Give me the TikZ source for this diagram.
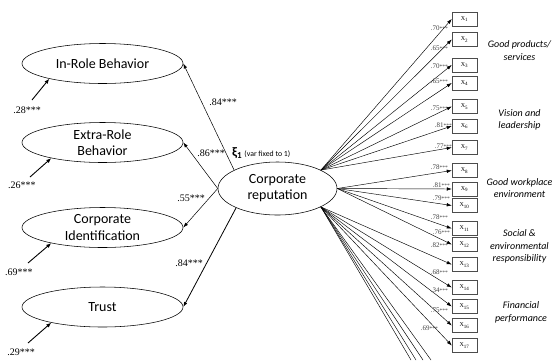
\documentclass[tikz,border=0pt]{standalone}
\usepackage{fontspec}
\setmainfont{Carlito}
\newfontfamily\numfont{Liberation Serif}
\usetikzlibrary{shapes.geometric,arrows.meta}

% small loading label: coefficient followed by tiny significance stars
\newcommand\lodtxt[1]{#1{\fontsize{5.5}{5.5}\selectfont ***}}

\begin{document}
\begin{tikzpicture}[x=1pt,y=-1pt,
  latent/.style={ellipse,draw,line width=0.55pt,minimum width=161pt,minimum height=40pt,
    inner sep=0pt,align=center,font=\fontsize{14}{16.5}\selectfont},
  indic/.style={rectangle,draw=black!70,line width=0.5pt,minimum width=25pt,minimum height=14pt,
    inner sep=0pt,font=\numfont\fontsize{6}{6}\selectfont},
  struct/.style={-{Latex[length=5pt,width=3.5pt]},line width=0.5pt},
  errarr/.style={-{Latex[length=5pt,width=4pt]},line width=0.9pt},
  loadarr/.style={-{Latex[length=5pt,width=3.5pt]},line width=0.45pt},
  coef/.style={font=\numfont\fontsize{10}{10}\selectfont,inner sep=0pt},
  lod/.style={font=\numfont\fontsize{7}{7}\selectfont,text=black!75,inner sep=0pt,anchor=east},
  grp/.style={font=\itshape\fontsize{10}{12.5}\selectfont,align=center,inner sep=0pt}
]
\useasboundingbox (0,0) rectangle (554,360);
\clip (0,0) rectangle (554,360);

% outcome constructs
\node[latent] (irb) at (102.5,63.5) {In-Role Behavior};
\node[latent] (erb) at (102.5,142.5) {Extra-Role\\Behavior};
\node[latent] (ci)  at (102.5,227.5) {Corporate\\Identification};
\node[latent] (tr)  at (102.5,307) {Trust};

% central construct
\node[ellipse,draw,line width=0.55pt,minimum width=119pt,minimum height=53pt,inner sep=0pt,
  align=center,font=\fontsize{14}{16}\selectfont] (cr) at (277.5,188.5) {Corporate\\reputation};
\node[anchor=west,inner sep=0pt] (xi) at (232,153)
  {\fontsize{13}{13}\selectfont\bfseries ξ\textsubscript{1}\,\mdseries\fontsize{7.8}{8}\selectfont(var fixed to 1)};

% structural paths
\draw[struct] (cr.157) -- (irb.east);
\draw[struct] (cr.west) -- (erb.east);
\draw[struct] (cr.west) -- (ci.east);
\draw[struct,line width=0.8pt] (cr.205) -- (tr.east);
\node[coef] (c1) at (223,102) {.84***};
\node[coef] (c2) at (211,153) {.86***};
\node[coef] (c3) at (191,198) {.55***};
\node[coef] (c4) at (189,263) {.84***};

% residual terms
\coordinate (e1) at (32,100);
\coordinate (e2) at (30,177);
\coordinate (e3) at (28,263);
\coordinate (e4) at (28,343);
\draw[errarr] (e1) -- (irb.196);
\draw[errarr] (e2) -- (erb.197);
\draw[errarr] (e3) -- (ci.197);
\draw[errarr] (e4) -- (tr.197);
\node[coef] (r1) at (27,110) {.28***};
\node[coef] (r2) at (22,185) {.26***};
\node[coef] (r3) at (19,272) {.69***};
\node[coef] (r4) at (21,352) {.29***};

% indicator boxes
\foreach \i/\y in {1/19,2/39.5,3/65,4/83,5/106.5,6/126,7/147.5,8/170.5,9/189,
                   10/205.5,11/228.5,12/244.5,13/264.5,14/287.5,15/306.5,16/325.5,17/345.5}
  \node[indic] (x\i) at (464.5,\y) {X\textsubscript{\i}};

% loadings
\foreach \i in {1,...,7}  \draw[loadarr] (cr.23) -- (x\i.west);
\foreach \i in {8,...,12} \draw[loadarr] (cr.east) -- (x\i.west);
\foreach \i in {13,...,17} \draw[loadarr] (cr.-23) -- (x\i.west);

% further indicators below the visible area
\coordinate (o1) at (411,360);
\coordinate (o2) at (416,360);
\coordinate (o3) at (423,360);
\coordinate (o4) at (431,360);
\foreach \k in {1,...,4} \draw[line width=0.45pt] (cr.-23) -- (o\k);

% loading values
\foreach \i/\xx/\y/\v in {1/448/28/.70,2/448/48/.65,3/448/66/.70,4/448/81/.65,5/448/108/.75,
    6/452/125/.81,7/452/146/.77,8/448/167/.78,9/450/185/.81,10/450/198/.79,11/448/217/.78,
    12/450/232/.76,13/448/245/.82,14/448/272/.68,15/448/290/.34,16/448/310/.75,17/438/328/.69}
  \node[lod] (l\i) at (\xx,\y) {\lodtxt{\v}};

% indicator groups
\node[grp] (g1) at (519.5,50.5) {Good products/\\services};
\node[grp] (g2) at (519.5,120) {Vision and\\leadership};
\node[grp] (g3) at (519.5,188) {Good workplace\\environment};
\node[grp] (g4) at (519.5,246.5) {Social \&\\environmental\\responsibility};
\node[grp] (g5) at (521,312.5) {Financial\\performance};
\end{tikzpicture}
\end{document}
